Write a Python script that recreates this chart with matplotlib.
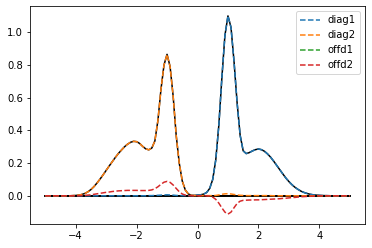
import numpy as np
import matplotlib
matplotlib.use("Agg")
import matplotlib.pyplot as plt

# x grid: -5 .. 5 in steps of 0.1 (101 points)
x = np.round(np.arange(-50, 51) / 10.0, 2)

# true (reference) curves
diag1_true = [
    # -5.0 .. -0.1
    0, 0, 0, 0, 0, 0, 0, 0, 0, 0,
    0, 0, 0, 0, 0, 0, 0, 0, 0, 0,
    0, 0, 0, 0, 0, 0, 0, 0, 0, 0,
    0, 0, 0, 0, 0, 0, 0, 0, 0, 0,
    0, 0, 0, 0, 0, 0, 0, 0, 0, 0.002,
    # 0.0 .. 0.9
    0.004, 0.006, 0.010, 0.020, 0.045, 0.100, 0.220, 0.430, 0.720, 0.980,
    # 1.0 .. 1.9
    1.100, 1.030, 0.820, 0.570, 0.370, 0.275, 0.258, 0.264, 0.274, 0.282,
    # 2.0 .. 2.9
    0.286, 0.282, 0.272, 0.256, 0.236, 0.212, 0.186, 0.160, 0.134, 0.109,
    # 3.0 .. 3.9
    0.087, 0.068, 0.052, 0.039, 0.028, 0.020, 0.014, 0.009, 0.006, 0.004,
    # 4.0 .. 5.0
    0.0025, 0.0015, 0.001, 0.0005, 0, 0, 0, 0, 0, 0, 0,
]

diag2_true = [
    # -5.0 .. -4.1
    0, 0, 0, 0, 0, 0, 0, 0, 0, 0.001,
    # -4.0 .. -3.1
    0.002, 0.004, 0.008, 0.014, 0.024, 0.038, 0.056, 0.078, 0.102, 0.128,
    # -3.0 .. -2.1
    0.155, 0.182, 0.208, 0.234, 0.258, 0.279, 0.299, 0.315, 0.327, 0.333,
    # -2.0 .. -1.1
    0.331, 0.320, 0.302, 0.287, 0.281, 0.292, 0.335, 0.460, 0.650, 0.800,
    # -1.0 .. -0.1
    0.865, 0.790, 0.610, 0.370, 0.200, 0.090, 0.035, 0.011, 0.003, 0.001,
    # 0.0 .. 5.0
    0, 0, 0, 0, 0, 0, 0, 0, 0, 0,
    0, 0, 0, 0, 0, 0, 0, 0, 0, 0,
    0, 0, 0, 0, 0, 0, 0, 0, 0, 0,
    0, 0, 0, 0, 0, 0, 0, 0, 0, 0,
    0, 0, 0, 0, 0, 0, 0, 0, 0, 0, 0,
]

offd_true = [0] * 101

# estimated curves (dashed)
diag1_est = [
    0, 0, 0, 0, 0, 0, 0, 0, 0, 0,
    0, 0, 0, 0, 0, 0, 0, 0, 0, 0,
    0, 0, 0, 0, 0, 0, 0, 0, 0, 0,
    0, 0, 0, 0, 0.001, 0.001, 0.002, 0.003, 0.004, 0.005,
    0.006, 0.005, 0.004, 0.002, 0.001, 0.001, 0.001, 0.001, 0.001, 0.002,
    0.004, 0.006, 0.010, 0.020, 0.045, 0.100, 0.220, 0.430, 0.720, 0.980,
    1.100, 1.030, 0.820, 0.570, 0.370, 0.275, 0.258, 0.264, 0.274, 0.282,
    0.286, 0.282, 0.272, 0.256, 0.236, 0.212, 0.186, 0.160, 0.134, 0.109,
    0.087, 0.068, 0.052, 0.039, 0.028, 0.020, 0.014, 0.009, 0.006, 0.004,
    0.0025, 0.0015, 0.001, 0.0005, 0, 0, 0, 0, 0, 0, 0,
]

diag2_est = [
    0, 0, 0, 0, 0, 0, 0, 0, 0, 0.001,
    0.002, 0.004, 0.008, 0.014, 0.024, 0.038, 0.056, 0.078, 0.102, 0.128,
    0.155, 0.182, 0.208, 0.234, 0.258, 0.279, 0.299, 0.315, 0.327, 0.333,
    0.331, 0.320, 0.302, 0.287, 0.281, 0.292, 0.335, 0.460, 0.650, 0.800,
    0.865, 0.790, 0.610, 0.370, 0.200, 0.090, 0.035, 0.011, 0.003, 0.001,
    0, 0.001, 0.001, 0.001, 0.001, 0.001, 0.002, 0.005, 0.009, 0.012,
    0.013, 0.011, 0.008, 0.005, 0.003, 0.002, 0.001, 0.001, 0.001, 0.001,
    0.001, 0.001, 0.001, 0.001, 0.001, 0, 0, 0, 0, 0,
    0, 0, 0, 0, 0, 0, 0, 0, 0, 0,
    0, 0, 0, 0, 0, 0, 0, 0, 0, 0, 0,
]

offd1_est = [0] * 101

offd2_est = [
    # -5.0 .. -4.1
    0, 0, 0, 0, 0, 0, 0, 0, 0, 0,
    # -4.0 .. -3.1
    0, 0, 0.001, 0.002, 0.004, 0.006, 0.009, 0.012, 0.015, 0.018,
    # -3.0 .. -2.1
    0.021, 0.023, 0.026, 0.028, 0.030, 0.031, 0.032, 0.033, 0.033, 0.033,
    # -2.0 .. -1.1
    0.033, 0.032, 0.032, 0.032, 0.033, 0.036, 0.043, 0.055, 0.070, 0.083,
    # -1.0 .. -0.1
    0.088, 0.082, 0.066, 0.045, 0.025, 0.011, 0.004, 0.001, 0, 0,
    # 0.0 .. 0.9
    0, 0, 0, 0, -0.002, -0.008, -0.022, -0.045, -0.074, -0.100,
    # 1.0 .. 1.9
    -0.112, -0.100, -0.073, -0.047, -0.033, -0.028, -0.027, -0.026, -0.026, -0.025,
    # 2.0 .. 2.9
    -0.025, -0.024, -0.023, -0.022, -0.021, -0.020, -0.019, -0.018, -0.016, -0.015,
    # 3.0 .. 3.9
    -0.013, -0.011, -0.010, -0.008, -0.006, -0.005, -0.004, -0.003, -0.002, -0.001,
    # 4.0 .. 5.0
    0, 0, 0, 0, 0, 0, 0, 0, 0, 0, 0,
]

labels = ["diag1", "diag2", "offd1", "offd2"]

W, H, DPI = 372, 248, 72
fig = plt.figure(figsize=(W / DPI, H / DPI), dpi=DPI)
ax = fig.add_axes([30 / W, 1 - 224 / H, 335 / W, 218 / H])

# offd1 estimate lies under the reference lines (it is hidden in the original)
h_offd1, = ax.plot(x, offd1_est, "--", color="C2", lw=1.5, label=labels[2], zorder=1)

for true in (diag1_true, diag2_true, offd_true, offd_true):
    ax.plot(x, true, color="black", lw=1.5, zorder=2)

h_d1, = ax.plot(x, diag1_est, "--", color="C0", lw=1.5, label=labels[0], zorder=3)
h_d2, = ax.plot(x, diag2_est, "--", color="C1", lw=1.5, label=labels[1], zorder=3)
h_o2, = ax.plot(x, offd2_est, "--", color="C3", lw=1.5, label=labels[3], zorder=3)

ax.legend(handles=[h_d1, h_d2, h_offd1, h_o2], loc="upper right")
fig.savefig("out.png", dpi=DPI)
